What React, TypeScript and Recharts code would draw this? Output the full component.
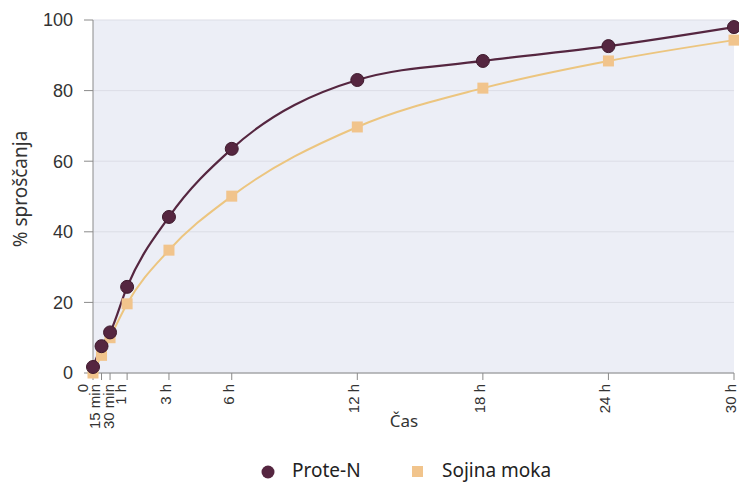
import React from 'react';
import { LineChart, Line, XAxis, YAxis, CartesianGrid, Legend } from 'recharts';

// čas v urah
const hours = [0, 0.25, 0.5, 1, 3, 6, 12, 18, 24, 30];
const hourLabels = ['0', '15 min', '30 min', '1 h', '3 h', '6 h', '12 h', '18 h', '24 h', '30 h'];
const proteN = [1.7, 7.6, 11.5, 24.4, 44.2, 63.5, 83, 88.4, 92.6, 98];
const sojinaMoka = [0, 5, 10, 19.6, 34.8, 50.1, 69.7, 80.7, 88.4, 94.3];
const yTicks = [0, 20, 40, 60, 80, 100];

const PURPLE = '#552640';
const YELLOW = '#ecc57f';
const SQUARE = '#f1c48c';
const TICK_FONT = '"Liberation Sans", Arial, sans-serif';
const LABEL_FONT = '"Noto Sans", "Open Sans", sans-serif';

// prva ura na osi je raztegnjena (≈1.63x)
const FIRST_HOUR = 1.63;
const warp = (h: number) => (h <= 1 ? h * FIRST_HOUR : FIRST_HOUR + (h - 1));

function stretchedScale(): any {
  let dom = [0, 30];
  let rng = [0, 1];
  const s: any = (v: number) => {
    const a = warp(dom[0]);
    const b = warp(dom[1]);
    return rng[0] + ((warp(v) - a) / (b - a)) * (rng[1] - rng[0]);
  };
  s.domain = (d?: number[]) => {
    if (d === undefined) return dom.slice();
    dom = [Number(d[0]), Number(d[d.length - 1])];
    return s;
  };
  s.range = (r?: number[]) => {
    if (r === undefined) return rng.slice();
    rng = [Number(r[0]), Number(r[r.length - 1])];
    return s;
  };
  s.copy = () => stretchedScale().domain(dom).range(rng);
  s.ticks = () => hours;
  s.clamp = () => s;
  s.nice = () => s;
  return s;
}

const data = hours.map((h, i) => ({ h, proteN: proteN[i], soja: sojinaMoka[i] }));

// gosti napisi na začetku osi so malo razmaknjeni
const crowdedShift: Record<number, number> = { 0: -7.5, 0.25: -3.5, 0.5: 1.5, 1: -3.5 };

const XTick = (props: any) => {
  const { x, y, payload } = props;
  const idx = hours.indexOf(payload.value);
  const tx = x - 3.5 + (crowdedShift[payload.value] || 0);
  return (
    <text
      x={tx}
      y={y}
      transform={`rotate(-90 ${tx} ${y})`}
      textAnchor="end"
      dominantBaseline="central"
      fontSize={15}
      fontFamily={TICK_FONT}
      fill="#333"
    >
      {hourLabels[idx]}
    </text>
  );
};

const SquareDot = (props: any) => {
  const { cx, cy, index } = props;
  if (cx == null || cy == null) return null;
  return <rect key={index} x={cx - 5.5} y={cy - 5.5} width={11} height={11} fill={SQUARE} />;
};

const renderLegend = () => (
  <div style={{ position: 'relative', height: 50, fontFamily: LABEL_FONT, fontSize: 19, color: '#222' }}>
    <svg width={16} height={16} style={{ position: 'absolute', left: 260, top: 30 }}>
      <circle cx={8} cy={8} r={6.5} fill={PURPLE} />
    </svg>
    <span style={{ position: 'absolute', left: 292, top: 23 }}>Prote-N</span>
    <svg width={14} height={14} style={{ position: 'absolute', left: 411, top: 31 }}>
      <rect x={1} y={1} width={11} height={11} fill={SQUARE} />
    </svg>
    <span style={{ position: 'absolute', left: 442, top: 23 }}>Sojina moka</span>
  </div>
);

export default function App() {
  return (
    <div style={{ position: 'absolute', left: 0, top: 0, width: 739, height: 484, background: '#fff' }}>
      <LineChart width={739} height={484} data={data} margin={{ top: 20, right: 5, bottom: 0, left: 0 }}>
        <CartesianGrid vertical={false} fill="#eceef6" stroke="#dcdde6" strokeWidth={1} />
        <XAxis
          dataKey="h"
          type="number"
          domain={[0, 30]}
          scale={stretchedScale()}
          ticks={hours}
          interval={0}
          height={61}
          tickSize={7}
          tickMargin={4}
          stroke="#8a8a8a"
          tick={<XTick />}
          label={{
            content: () => (
              <text x={404} y={427} textAnchor="middle" fontSize={17} fontFamily={LABEL_FONT} fill="#333">
                Čas
              </text>
            ),
          }}
        />
        <YAxis
          type="number"
          domain={[0, 100]}
          ticks={yTicks}
          width={93}
          tickSize={9}
          tickMargin={11}
          stroke="#8a8a8a"
          tick={{ fontSize: 18, fontFamily: TICK_FONT, fill: '#333' }}
          label={{
            content: () => (
              <text
                x={20}
                y={189}
                transform="rotate(-90 20 189)"
                textAnchor="middle"
                dominantBaseline="central"
                fontSize={19}
                fontFamily={LABEL_FONT}
                fill="#333"
              >
                % sproščanja
              </text>
            ),
          }}
        />
        <Legend verticalAlign="bottom" height={50} content={renderLegend} />
        <Line
          type="monotone"
          dataKey="soja"
          name="Sojina moka"
          stroke={YELLOW}
          strokeWidth={2}
          dot={<SquareDot />}
          isAnimationActive={false}
        />
        <Line
          type="monotone"
          dataKey="proteN"
          name="Prote-N"
          stroke={PURPLE}
          strokeWidth={2.2}
          dot={{ r: 6.5, fill: PURPLE, stroke: '#3f1a2d', strokeWidth: 1 }}
          isAnimationActive={false}
        />
      </LineChart>
    </div>
  );
}
